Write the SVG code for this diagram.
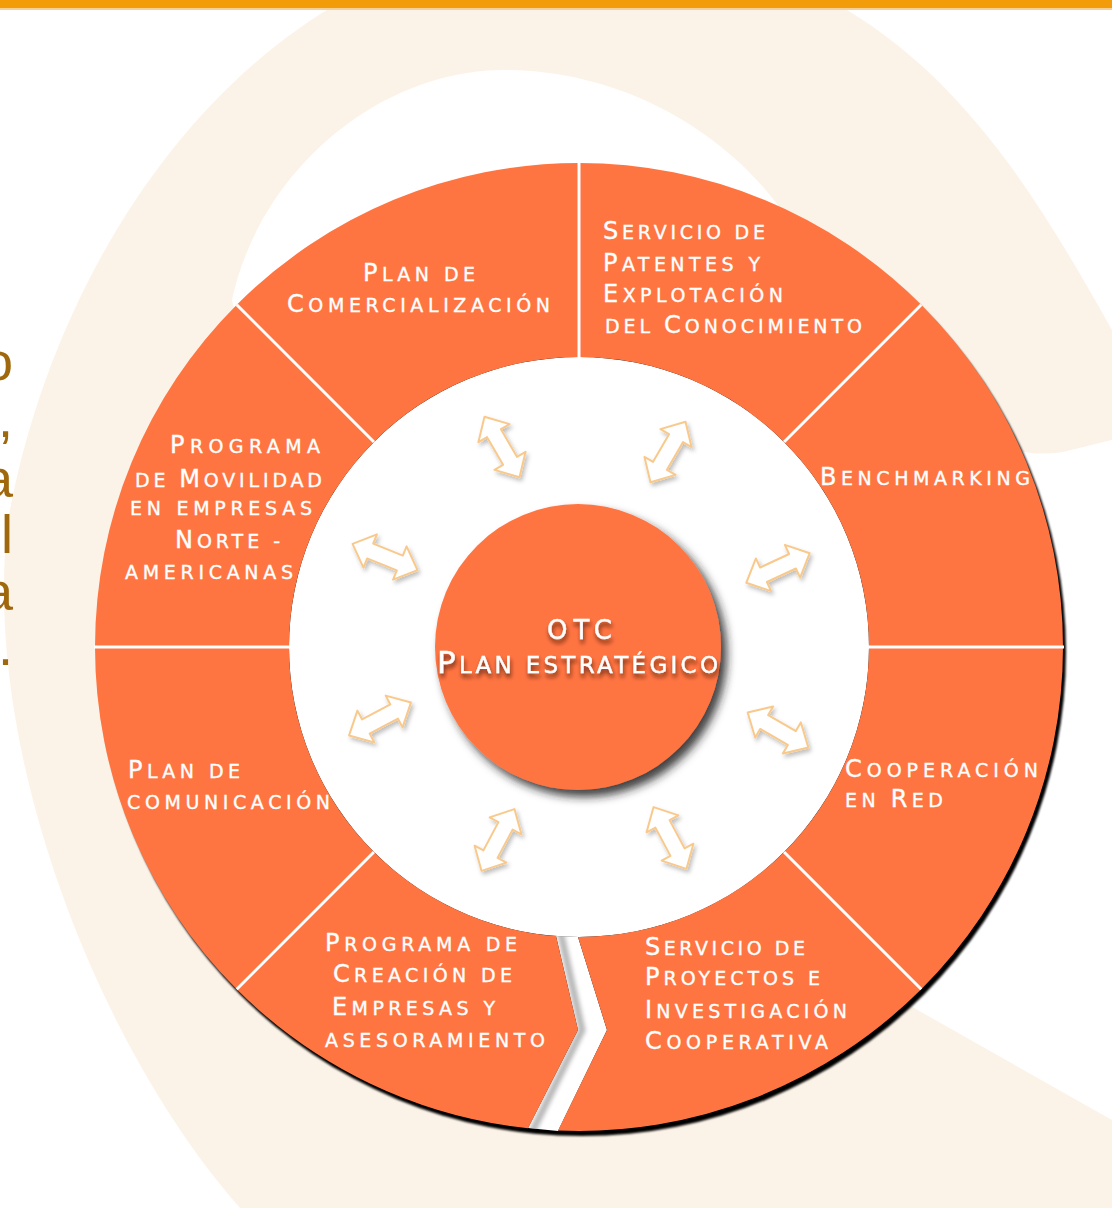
<svg xmlns="http://www.w3.org/2000/svg" width="1112" height="1208" viewBox="0 0 1112 1208">
<defs>
<style>
.lbl{font-family:"DejaVu Sans","Liberation Sans",sans-serif;font-size:19px;fill:#fff;stroke:#fff;stroke-width:0.35}
.C{font-size:24px}
.ctr{font-family:"DejaVu Sans","Liberation Sans",sans-serif;fill:#fff;stroke:#fff;stroke-width:0.4}
.frag{font-family:"Liberation Sans",sans-serif;font-size:54px;fill:#A0680C;text-anchor:end}
.sector{fill:#FF7542}
.div{stroke:#fff;stroke-width:3;fill:none}
.arrow{fill:#fff;stroke:#F9C98C;stroke-width:2;stroke-linejoin:round}
</style>
<filter id="diskShadow" x="-10%" y="-10%" width="120%" height="120%"><feGaussianBlur stdDeviation="1.2"/></filter>
<filter id="ctrShadow" x="-20%" y="-20%" width="150%" height="150%"><feDropShadow dx="6" dy="7" stdDeviation="5" flood-color="#222" flood-opacity="0.85"/></filter>
<filter id="txtShadow" x="-10%" y="-50%" width="120%" height="200%"><feDropShadow dx="1" dy="4" stdDeviation="2" flood-color="#4a1c08" flood-opacity="0.8"/></filter>
<filter id="arrShadow" x="-30%" y="-30%" width="160%" height="160%"><feDropShadow dx="2" dy="3" stdDeviation="2" flood-color="#000" flood-opacity="0.25"/></filter>
<filter id="crackBlur" x="-50%" y="-10%" width="200%" height="120%"><feGaussianBlur stdDeviation="2"/></filter>
<path id="dbl" d="M-35,0 L-16,-18 L-16,-8 L16,-8 L16,-18 L35,0 L16,18 L16,8 L-16,8 L-16,18 Z"/>
<clipPath id="crackClip"><polygon points="556,936 578,1030 528,1128 558,1131 607,1030 578,937"/></clipPath>
</defs>

<g id="background">
<rect width="1112" height="1208" fill="#fff"/>
<path d="M1112,330 C1000,130 880,-60 570,-60 C270,-60 60,230 8,520 C-20,750 100,1050 240,1208 L1112,1208 Z" fill="#FCF3E8"/>
<path d="M504,70 C630,70 740,140 795,230 C850,330 950,470 1063,452 L1112,440 L1112,1120 L900,1000 L400,1000 L232,300 C260,170 380,70 504,70 Z" fill="#fff"/>
<rect x="0" y="0" width="1112" height="8" fill="#F29C0A"/>
<rect x="0" y="8" width="1112" height="2" fill="#F8CF96"/>
</g>

<g id="side-text">
<text class="frag" x="13" y="380">o</text>
<text class="frag" x="13" y="437">,</text>
<text class="frag" x="13" y="497">a</text>
<text class="frag" x="13" y="553">l</text>
<text class="frag" x="13" y="610">a</text>
<text class="frag" x="13" y="665">.</text>
</g>

<g id="ring-base">
<circle cx="582" cy="652" r="484" fill="#000" filter="url(#diskShadow)"/>
<circle cx="579" cy="647" r="290" fill="#fff"/>
<polygon points="556,936 578,1030 528,1128 558,1131 607,1030 578,937" fill="#fff"/>
<polyline points="560,930 582,1030 532,1132" fill="none" stroke="#888" stroke-width="7" opacity="0.6" filter="url(#crackBlur)" clip-path="url(#crackClip)"/>
</g>

<g id="node-comercializacion">
<path class="sector" d="M579,163 A484,484 0 0 0 236.76,304.76 L373.94,441.94 A290,290 0 0 1 579,357 Z"/>
<text class="lbl" x="363" y="281" textLength="112" lengthAdjust="spacing"><tspan class="C">P</tspan>LAN DE</text>
<text class="lbl" x="287" y="312" textLength="263" lengthAdjust="spacing"><tspan class="C">C</tspan>OMERCIALIZACIÓN</text>
</g>

<g id="node-patentes">
<path class="sector" d="M921.24,304.76 A484,484 0 0 0 579,163 L579,357 A290,290 0 0 1 784.06,441.94 Z"/>
<text class="lbl" x="603" y="239" textLength="162" lengthAdjust="spacing"><tspan class="C">S</tspan>ERVICIO DE</text>
<text class="lbl" x="603" y="271" textLength="157" lengthAdjust="spacing"><tspan class="C">P</tspan>ATENTES Y</text>
<text class="lbl" x="603" y="302" textLength="180" lengthAdjust="spacing"><tspan class="C">E</tspan>XPLOTACIÓN</text>
<text class="lbl" x="605" y="333" textLength="257" lengthAdjust="spacing">DEL <tspan class="C">C</tspan>ONOCIMIENTO</text>
</g>

<g id="node-benchmarking">
<path class="sector" d="M1063,647 A484,484 0 0 0 921.24,304.76 L784.06,441.94 A290,290 0 0 1 869,647 Z"/>
<text class="lbl" x="820" y="485" textLength="210" lengthAdjust="spacing"><tspan class="C">B</tspan>ENCHMARKING</text>
</g>

<g id="node-cooperacion">
<path class="sector" d="M921.24,989.24 A484,484 0 0 0 1063,647 L869,647 A290,290 0 0 1 784.06,852.06 Z"/>
<text class="lbl" x="845" y="777" textLength="193" lengthAdjust="spacing"><tspan class="C">C</tspan>OOPERACIÓN</text>
<text class="lbl" x="845" y="807" textLength="98" lengthAdjust="spacing">EN <tspan class="C">R</tspan>ED</text>
</g>

<g id="node-proyectos">
<path class="sector" d="M558,1130.5 A484,484 0 0 0 921.24,989.24 L784.06,852.06 A290,290 0 0 1 578,937 L607,1030 Z"/>
<text class="lbl" x="645" y="955" textLength="160" lengthAdjust="spacing"><tspan class="C">S</tspan>ERVICIO DE</text>
<text class="lbl" x="645" y="985" textLength="175" lengthAdjust="spacing"><tspan class="C">P</tspan>ROYECTOS E</text>
<text class="lbl" x="645" y="1018" textLength="202" lengthAdjust="spacing"><tspan class="C">I</tspan>NVESTIGACIÓN</text>
<text class="lbl" x="645" y="1049" textLength="183" lengthAdjust="spacing"><tspan class="C">C</tspan>OOPERATIVA</text>
</g>

<g id="node-creacion">
<path class="sector" d="M236.76,989.24 A484,484 0 0 0 528,1128.3 L578,1030 L556,936.1 A290,290 0 0 1 373.94,852.06 Z"/>
<text class="lbl" x="325" y="951" textLength="192" lengthAdjust="spacing"><tspan class="C">P</tspan>ROGRAMA DE</text>
<text class="lbl" x="333" y="982" textLength="179" lengthAdjust="spacing"><tspan class="C">C</tspan>REACIÓN DE</text>
<text class="lbl" x="332" y="1015" textLength="163" lengthAdjust="spacing"><tspan class="C">E</tspan>MPRESAS Y</text>
<text class="lbl" x="325" y="1047" textLength="220" lengthAdjust="spacing">ASESORAMIENTO</text>
</g>

<g id="node-comunicacion">
<path class="sector" d="M95,647 A484,484 0 0 0 236.76,989.24 L373.94,852.06 A290,290 0 0 1 289,647 Z"/>
<text class="lbl" x="128" y="778" textLength="112" lengthAdjust="spacing"><tspan class="C">P</tspan>LAN DE</text>
<text class="lbl" x="127" y="809" textLength="203" lengthAdjust="spacing">COMUNICACIÓN</text>
</g>

<g id="node-movilidad">
<path class="sector" d="M236.76,304.76 A484,484 0 0 0 95,647 L289,647 A290,290 0 0 1 373.94,441.94 Z"/>
<text class="lbl" x="170" y="453" textLength="150" lengthAdjust="spacing"><tspan class="C">P</tspan>ROGRAMA</text>
<text class="lbl" x="135" y="487" textLength="187" lengthAdjust="spacing">DE <tspan class="C">M</tspan>OVILIDAD</text>
<text class="lbl" x="130" y="515" textLength="182" lengthAdjust="spacing">EN EMPRESAS</text>
<text class="lbl" x="175" y="548" textLength="105" lengthAdjust="spacing"><tspan class="C">N</tspan>ORTE -</text>
<text class="lbl" x="125" y="579" textLength="168" lengthAdjust="spacing">AMERICANAS</text>
</g>

<g id="dividers">
<line class="div" x1="579" y1="161" x2="579" y2="358"/>
<line class="div" x1="921.24" y1="304.76" x2="784.06" y2="441.94"/>
<line class="div" x1="1064" y1="647" x2="868" y2="647"/>
<line class="div" x1="921.24" y1="989.24" x2="784.06" y2="852.06"/>
<line class="div" x1="236.76" y1="989.24" x2="373.94" y2="852.06"/>
<line class="div" x1="94" y1="647" x2="290" y2="647"/>
<line class="div" x1="236.76" y1="304.76" x2="373.94" y2="441.94"/>
</g>

<g id="connectors" filter="url(#arrShadow)">
<use href="#dbl" class="arrow" transform="translate(502,447) rotate(60)"/>
<use href="#dbl" class="arrow" transform="translate(668,452) rotate(-60)"/>
<use href="#dbl" class="arrow" transform="translate(778,568) rotate(-25)"/>
<use href="#dbl" class="arrow" transform="translate(778,730) rotate(30)"/>
<use href="#dbl" class="arrow" transform="translate(670,838) rotate(62)"/>
<use href="#dbl" class="arrow" transform="translate(498,840) rotate(-62)"/>
<use href="#dbl" class="arrow" transform="translate(380,719) rotate(-28)"/>
<use href="#dbl" class="arrow" transform="translate(385,557) rotate(22)"/>
</g>

<g id="node-center">
<circle cx="578" cy="647" r="143" fill="#FF7542" filter="url(#ctrShadow)"/>
<g filter="url(#txtShadow)">
<text class="ctr" x="547" y="639" font-size="26" textLength="65" lengthAdjust="spacing">OTC</text>
<text class="ctr" x="437" y="673" font-size="23" textLength="281" lengthAdjust="spacing"><tspan font-size="31">P</tspan>LAN ESTRATÉGICO</text>
</g>
</g>
</svg>
